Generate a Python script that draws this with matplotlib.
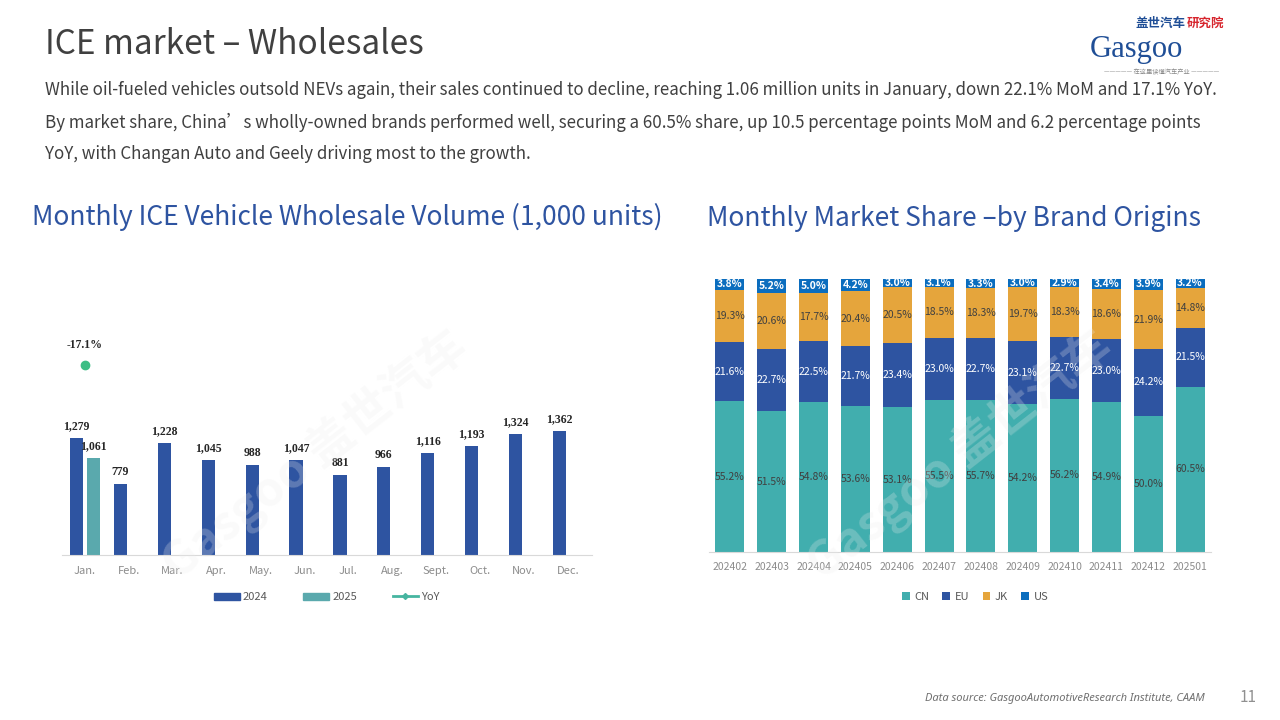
import matplotlib
matplotlib.use("Agg")
import matplotlib.pyplot as plt
from matplotlib.lines import Line2D
from matplotlib.patches import Patch
import numpy as np

plt.rcParams['font.family'] = ['Noto Sans CJK SC', 'DejaVu Sans']

# datos del grafico izquierdo
meses = ["Jan.", "Feb.", "Mar.", "Apr.", "May.", "Jun.", "Jul.", "Aug.",
         "Sept.", "Oct.", "Nov.", "Dec."]
ventas_2024 = [1279, 779, 1228, 1045, 988, 1047, 881, 966, 1116, 1193, 1324, 1362]
ventas_2025 = [1061]
yoy = [-17.1]

# datos del grafico derecho
periodos = ["202402", "202403", "202404", "202405", "202406", "202407",
            "202408", "202409", "202410", "202411", "202412", "202501"]
cuota_cn = [55.2, 51.5, 54.8, 53.6, 53.1, 55.5, 55.7, 54.2, 56.2, 54.9, 50.0, 60.5]
cuota_eu = [21.6, 22.7, 22.5, 21.7, 23.4, 23.0, 22.7, 23.1, 22.7, 23.0, 24.2, 21.5]
cuota_jk = [19.3, 20.6, 17.7, 20.4, 20.5, 18.5, 18.3, 19.7, 18.3, 18.6, 21.9, 14.8]
cuota_us = [3.8, 5.2, 5.0, 4.2, 3.0, 3.1, 3.3, 3.0, 2.9, 3.4, 3.9, 3.2]

AZUL = "#2E54A1"
TEAL = "#5AA9AD"
VERDE = "#3DBE85"
C_CN = "#41AEAE"
C_EU = "#2E54A1"
C_JK = "#E5A53C"
C_US = "#0B6DBE"
GRIS = "#8C8C8C"

fig = plt.figure(figsize=(12.8, 7.2), dpi=100)

# encabezado
fig.text(45 / 1280, 1 - 44 / 720, "ICE market – Wholesales", fontsize=24,
         color="#404040", fontweight="light", va="center")
cuerpo = [
    "While oil-fueled vehicles outsold NEVs again, their sales continued to decline, reaching 1.06 million units in January, down 22.1% MoM and 17.1% YoY.",
    "By market share, China’s wholly-owned brands performed well, securing a 60.5% share, up 10.5 percentage points MoM and 6.2 percentage points",
    "YoY, with Changan Auto and Geely driving most to the growth.",
]
for k, linea in enumerate(cuerpo):
    fig.text(45 / 1280, 1 - (90 + 32 * k) / 720, linea, fontsize=12.2,
             color="#404040", fontweight="light", va="center")

fig.text(32 / 1280, 1 - 217 / 720, "Monthly ICE Vehicle Wholesale Volume (1,000 units)",
         fontsize=19, color=AZUL, va="center")
fig.text(707 / 1280, 1 - 218 / 720, "Monthly Market Share –by Brand Origins",
         fontsize=19, color=AZUL, va="center")

# logo
fig.text(1185 / 1280, 1 - 23 / 720, "盖世汽车", fontsize=9, color="#1F4E96",
         fontweight="bold", va="center", ha="right")
fig.text(1187 / 1280, 1 - 23 / 720, "研究院", fontsize=9, color="#D7262E",
         fontweight="bold", va="center", ha="left")
fig.text(1090 / 1280, 1 - 49 / 720, "Gasgoo", fontsize=22, color="#1F4E96",
         va="center", family=["Liberation Serif"])
fig.text(1162 / 1280, 1 - 72 / 720, "————— 在这里读懂汽车产业 —————", fontsize=4.5,
         color="#888888", va="center", ha="center")

# marcas de agua
for xw, yw in [(315 / 1280, 1 - 455 / 720), (960 / 1280, 1 - 455 / 720)]:
    fig.text(xw, yw, "Gasgoo 盖世汽车", fontsize=34, color="#EDEDED", alpha=0.25,
             rotation=38, ha="center", va="center", fontweight="bold", zorder=10)

# pie de pagina
fig.text(1205 / 1280, 1 - 698 / 720,
         "Data source: GasgooAutomotiveResearch Institute, CAAM",
         fontsize=8, color="#707070", style="italic", ha="right", va="center",
         family=["Noto Sans"])
fig.text(1248 / 1280, 1 - 698 / 720, "11", fontsize=11, color="#909090",
         ha="center", va="center")

# ---- grafico izquierdo ----
ax1 = fig.add_axes([62 / 1280, 1 - 555 / 720, 530 / 1280, 225 / 720])
x = np.arange(len(meses))
ancho = 0.3
b24 = ax1.bar(x - 0.19, ventas_2024, ancho, color=AZUL, label="2024")
b25 = ax1.bar(x[:len(ventas_2025)] + 0.19, ventas_2025, ancho, color=TEAL, label="2025")
for rect, v in zip(list(b24) + list(b25), ventas_2024 + ventas_2025):
    ax1.text(rect.get_x() + rect.get_width() / 2, v + 65, f"{v:,}",
             ha="center", va="bottom", fontsize=8.5, fontweight="bold",
             color="#262626", family=["Liberation Serif"])
ax1.set_xlim(-0.52, 11.55)
ax1.set_ylim(0, 2470)
ax1.set_xticks(x)
ax1.set_xticklabels(meses, fontsize=8, color=GRIS)
ax1.tick_params(axis="x", length=0, pad=8)
ax1.set_yticks([])
for s in ["top", "right", "left"]:
    ax1.spines[s].set_visible(False)
ax1.spines["bottom"].set_color("#D9D9D9")

ax1b = ax1.twinx()
ax1b.plot(x[:len(yoy)], yoy, color=VERDE, marker="o", markersize=6, linestyle="-")
for xi, v in zip(x[:len(yoy)], yoy):
    ax1b.text(xi, v + 7, f"{v:.1f}%", ha="center", va="bottom", fontsize=8.5,
              fontweight="bold", color="#262626", family=["Liberation Serif"])
ax1b.set_ylim(-110, 0)
ax1b.set_xlim(-0.52, 11.55)
ax1b.set_yticks([])
for s in ax1b.spines.values():
    s.set_visible(False)

manejadores = [
    Patch(color=AZUL, label="2024"),
    Patch(color=TEAL, label="2025"),
    Line2D([0], [0], color="#46B5A0", marker="D", markersize=3, lw=2, label="YoY"),
]
ax1.legend(handles=manejadores, loc="center", bbox_to_anchor=(0.5, -0.187),
           ncol=3, frameon=False, fontsize=8, handlelength=2.3, handleheight=0.6,
           columnspacing=3.2, handletextpad=0.3, labelcolor="#595959")

# ---- grafico derecho ----
ax2 = fig.add_axes([709 / 1280, 1 - 552 / 720, 502 / 1280, 273 / 720])
xp = np.arange(len(periodos))
w = 0.69
base = np.zeros(len(periodos))
series = [(cuota_cn, C_CN, "CN", "#404040", "normal"),
          (cuota_eu, C_EU, "EU", "white", "normal"),
          (cuota_jk, C_JK, "JK", "#404040", "normal"),
          (cuota_us, C_US, "US", "white", "bold")]
for vals, col, nom, tcol, tw in series:
    vals = np.array(vals)
    ax2.bar(xp, vals, w, bottom=base, color=col, label=nom)
    for xi, b, v in zip(xp, base, vals):
        ax2.text(xi, b + v / 2, f"{v:.1f}%", ha="center", va="center",
                 fontsize=7.5, color=tcol, fontweight=tw)
    base = base + vals
ax2.set_xlim(-0.5, 11.5)
ax2.set_ylim(0, 100)
ax2.set_xticks(xp)
ax2.set_xticklabels(periodos, fontsize=7.5, color=GRIS)
ax2.tick_params(axis="x", length=0, pad=7)
ax2.set_yticks([])
for s in ["top", "right", "left"]:
    ax2.spines[s].set_visible(False)
ax2.spines["bottom"].set_color("#D9D9D9")
ax2.legend(loc="center", bbox_to_anchor=(0.53, -0.165), ncol=4, frameon=False,
           fontsize=8, handlelength=0.7, handleheight=0.7, columnspacing=1.2,
           handletextpad=0.4, labelcolor="#595959")

plt.savefig("out.png", dpi=100)
